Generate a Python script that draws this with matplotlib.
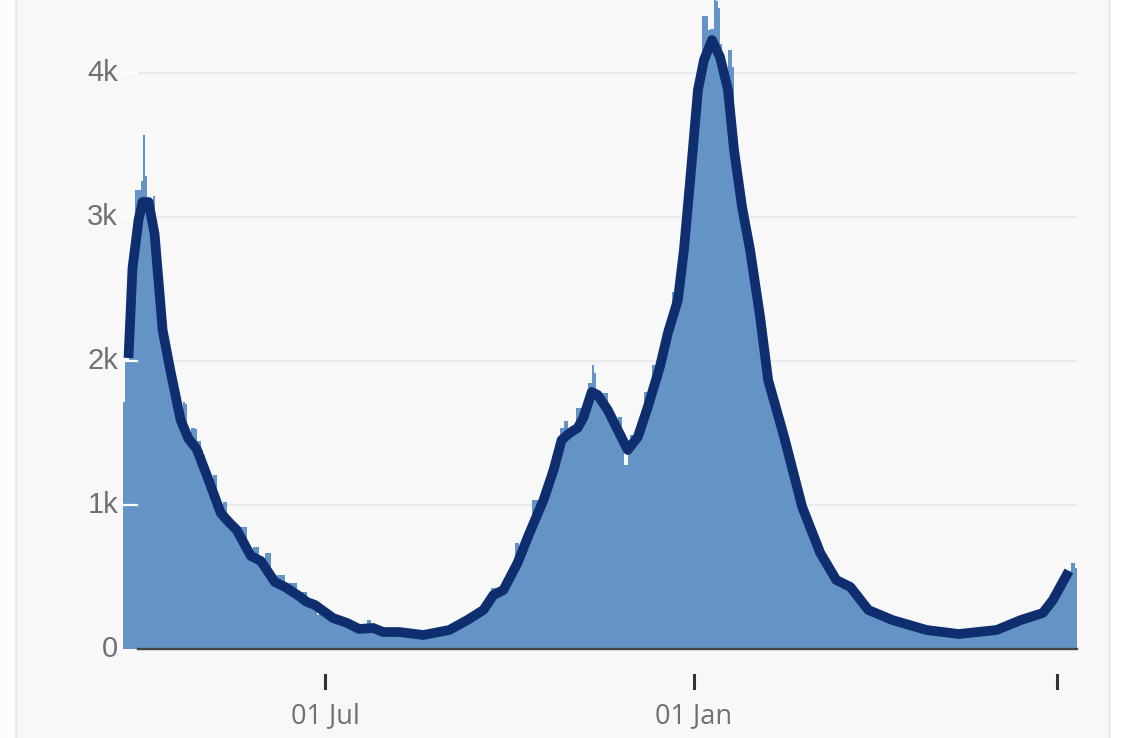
import numpy as np
import pandas as pd
import matplotlib
matplotlib.use("Agg")
import matplotlib.pyplot as plt
import matplotlib.transforms as mtransforms
from matplotlib.patches import Rectangle
from matplotlib.lines import Line2D

# ---------------- data ----------------
START = "2020-03-22"
mar20 = [1715, 2000, 2000, 2050, 2400, 2700, 3190, 3190, 3190, 3250]
apr20 = [3570, 3285, 3100, 3080, 3120, 3146, 2972, 2800, 2550, 2350,
         2200, 2120, 2050, 1980, 1910, 1840, 1760, 1700, 1640, 1600,
         1715, 1700, 1480, 1460, 1535, 1535, 1530, 1444, 1444, 1380]
may20 = [1350, 1280, 1210, 1180, 1150, 1208, 1208, 1050, 960, 940,
         1021, 1021, 880, 870, 860, 840, 830, 820, 847, 847,
         847, 847, 720, 660, 640, 708, 708, 708, 610, 600, 590]
jun20 = [667, 667, 667, 520, 480, 460, 514, 514, 514, 514,
         430, 458, 458, 458, 458, 458, 396, 396, 396, 396,
         396, 330, 320, 310, 300, 290, 236, 290, 280, 260]
jul20 = [250, 240, 230, 220, 215, 210, 205, 200, 195, 190,
         185, 180, 170, 165, 155, 150, 145, 140, 138, 140,
         145, 201, 201, 150, 145, 140, 130, 125, 120, 118, 118]
aug20 = [118, 118, 118, 118, 118, 118, 118, 115, 113, 111,
         110, 108, 106, 104, 102, 100, 99, 98, 97, 98,
         100, 102, 104, 106, 146, 146, 146, 146, 130, 130, 130]
sep20 = [135, 140, 148, 155, 163, 170, 178, 186, 194, 201,
         210, 218, 227, 236, 245, 253, 262, 271, 290, 310,
         330, 424, 424, 424, 395, 400, 405, 410, 440, 480]
oct20 = [520, 545, 570, 736, 736, 640, 675, 710, 740, 770,
         806, 1035, 1035, 1035, 900, 940, 990, 1035, 1075, 1115,
         1160, 1200, 1243, 1300, 1350, 1535, 1535, 1583, 1583, 1500, 1500]
nov20 = [1510, 1520, 1674, 1674, 1674, 1580, 1611, 1680, 1847, 1847,
         1972, 1917, 1780, 1764, 1740, 1778, 1778, 1778, 1660, 1630,
         1600, 1570, 1540, 1611, 1611, 1460, 1278, 1278, 1382, 1486]
dec20 = [1486, 1420, 1440, 1472, 1520, 1580, 1785, 1785, 1785, 1760,
         1972, 1972, 1972, 1958, 1958, 2010, 2070, 2130, 2215, 2250,
         2479, 2479, 2400, 2424, 2550, 2700, 3132, 3292, 3292, 3236, 3500]
jan21 = [3600, 3750, 3900, 4111, 4396, 4396, 4396, 4300, 4306, 4306,
         4580, 4500, 4450, 4200, 4100, 4000, 3950, 4160, 4160, 4042,
         3500, 3400, 3300, 3200, 3069, 2990, 2920, 2850, 2771, 2700, 2620]
feb21 = [2540, 2450, 2306, 2200, 2090, 1980, 1868, 1820, 1770, 1720,
         1670, 1620, 1570, 1520, 1472, 1420, 1370, 1310, 1250, 1200,
         1150, 1100, 1040, 986, 950, 910, 870, 830]
mar21 = [790, 760, 725, 695, 667, 640, 615, 590, 565, 540,
         520, 500, 479, 470, 462, 455, 448, 441, 436, 431,
         410, 390, 370, 350, 330, 315, 300, 285, 271, 265, 260]
apr21 = [255, 250, 245, 240, 235, 230, 225, 215, 208, 201,
         197, 193, 189, 185, 181, 177, 173, 169, 165, 161,
         157, 153, 149, 145, 141, 137, 132, 130, 128, 126]
may21 = [125, 123, 121, 119, 117, 115, 113, 111, 110, 109,
         107, 106, 104, 105, 106, 108, 109, 110, 112, 113,
         115, 116, 118, 119, 120, 122, 124, 125, 127, 129, 130]
jun21 = [132, 138, 144, 150, 155, 161, 167, 172, 178, 184,
         190, 195, 201, 205, 210, 214, 219, 223, 228, 232,
         237, 241, 246, 250, 270, 290, 310, 340, 410, 410]
jul21 = [400, 420, 440, 460, 480, 500, 542, 597, 597, 563]

daily_values = (mar20 + apr20 + may20 + jun20 + jul20 + aug20 + sep20 + oct20 +
                nov20 + dec20 + jan21 + feb21 + mar21 + apr21 + may21 + jun21 + jul21)
daily_dates = pd.date_range(START, periods=len(daily_values), freq="D")

avg_dates = ["2020-03-25", "2020-03-27", "2020-03-30", "2020-04-01", "2020-04-04",
             "2020-04-07", "2020-04-11", "2020-04-15", "2020-04-20", "2020-04-24",
             "2020-04-28", "2020-05-03", "2020-05-10", "2020-05-14", "2020-05-18",
             "2020-05-25", "2020-05-30", "2020-06-06", "2020-06-11", "2020-06-18",
             "2020-06-22", "2020-06-26", "2020-07-05", "2020-07-12", "2020-07-18",
             "2020-07-25", "2020-07-30", "2020-08-07", "2020-08-19", "2020-09-01",
             "2020-09-10", "2020-09-18", "2020-09-23", "2020-09-28", "2020-10-05",
             "2020-10-11", "2020-10-18", "2020-10-23", "2020-10-27", "2020-10-31",
             "2020-11-04", "2020-11-07", "2020-11-11", "2020-11-14", "2020-11-19",
             "2020-11-24", "2020-11-29", "2020-12-04", "2020-12-09", "2020-12-15",
             "2020-12-19", "2020-12-24", "2020-12-27", "2020-12-30", "2021-01-03",
             "2021-01-06", "2021-01-10", "2021-01-14", "2021-01-18", "2021-01-21",
             "2021-01-25", "2021-01-29", "2021-02-03", "2021-02-07", "2021-02-15",
             "2021-02-24", "2021-03-05", "2021-03-13", "2021-03-20", "2021-03-29",
             "2021-04-10", "2021-04-27", "2021-05-13", "2021-06-01", "2021-06-13",
             "2021-06-24", "2021-06-29", "2021-07-07"]
avg_values = [2021, 2646, 2979, 3104, 3104, 2882, 2215, 1924, 1590, 1458,
              1389, 1208, 944, 882, 826, 646, 611, 465, 431, 368,
              326, 306, 215, 181, 139, 146, 118, 118, 97, 132,
              201, 271, 375, 410, 597, 806, 1035, 1243, 1451, 1500,
              1535, 1611, 1785, 1764, 1660, 1521, 1382, 1472, 1681, 1958,
              2194, 2424, 2771, 3236, 3882, 4090, 4229, 4111, 3882, 3465,
              3069, 2771, 2306, 1868, 1472, 986, 667, 479, 431, 271,
              201, 132, 104, 132, 201, 250, 340, 542]

y_ticks = [0, 1000, 2000, 3000, 4000]
y_tick_labels = ["0", "1k", "2k", "3k", "4k"]
x_ticks = ["2020-07-01", "2021-01-01", "2021-07-01"]
x_tick_labels = ["01 Jul", "01 Jan", ""]

# ---------------- figure ----------------
W, H = 1125, 738
BG = "#f8f8f8"
fig = plt.figure(figsize=(W / 100, H / 100), dpi=100, facecolor=BG)

# panel edges
fig.patches.append(Rectangle((0, 0), 15 / W, 1, transform=fig.transFigure,
                             facecolor="#fcfcfc", edgecolor="none", zorder=0))
fig.patches.append(Rectangle((1110 / W, 0), 15 / W, 1, transform=fig.transFigure,
                             facecolor="#ffffff", edgecolor="none", zorder=0))
fig.lines.append(Line2D([16 / W, 16 / W], [0, 1], transform=fig.transFigure,
                        color="#ebebeb", lw=2))
fig.lines.append(Line2D([1108.5 / W, 1108.5 / W], [0, 1], transform=fig.transFigure,
                        color="#ebebeb", lw=2))

x0_px, x1_px = 122.5, 1076.9
ax = fig.add_axes([x0_px / W, 89 / H, (x1_px - x0_px) / W, 649 / H])
ax.set_facecolor("none")
ax.set_xlim(pd.Timestamp("2020-03-22"), pd.Timestamp("2021-07-11"))
ax.set_ylim(0, 4507)
ax.set_axis_off()

grid_start = (138 - x0_px) / (x1_px - x0_px)
for v in y_ticks[1:]:
    ax.axhline(v, xmin=grid_start, xmax=1, color="#ebebeb", lw=1.6, zorder=0.5)

ax.bar(daily_dates, daily_values, width=1.0, align="edge", color="#6494c6",
       linewidth=0, antialiased=False, zorder=1)

# small white ticks over the bars at the left
for v in y_ticks[1:]:
    ax.axhline(v, xmin=0, xmax=(137 - x0_px) / (x1_px - x0_px), color="white",
               lw=1.6, zorder=2)

# baseline
ax.axhline(0, xmin=grid_start, xmax=1, color="#444444", lw=1.7, zorder=4,
           clip_on=False)

ax.plot(pd.to_datetime(avg_dates), avg_values, color="#0f2e6f", lw=7,
        solid_joinstyle="round", solid_capstyle="butt", zorder=5)

# y labels
ytrans = mtransforms.blended_transform_factory(fig.transFigure, ax.transData)
for v, lab in zip(y_ticks, y_tick_labels):
    ax.text(118 / W, v, lab, transform=ytrans, ha="right", va="center",
            fontsize=21, color="#6e7174", family="Liberation Sans", clip_on=False)

# x ticks and labels
xtrans = mtransforms.blended_transform_factory(ax.transData, fig.transFigure)
for d, lab in zip(x_ticks, x_tick_labels):
    t = pd.Timestamp(d)
    ax.add_line(Line2D([t, t], [(H - 675) / H, (H - 688) / H], transform=xtrans,
                       color="#333333", lw=2.2, clip_on=False))
    if lab:
        ax.text(t, (H - 716) / H, lab, transform=xtrans, ha="center", va="center",
                fontsize=19.5, color="#6e7174", family="Open Sans", clip_on=False)

fig.savefig("out.png", dpi=100, facecolor=BG)
